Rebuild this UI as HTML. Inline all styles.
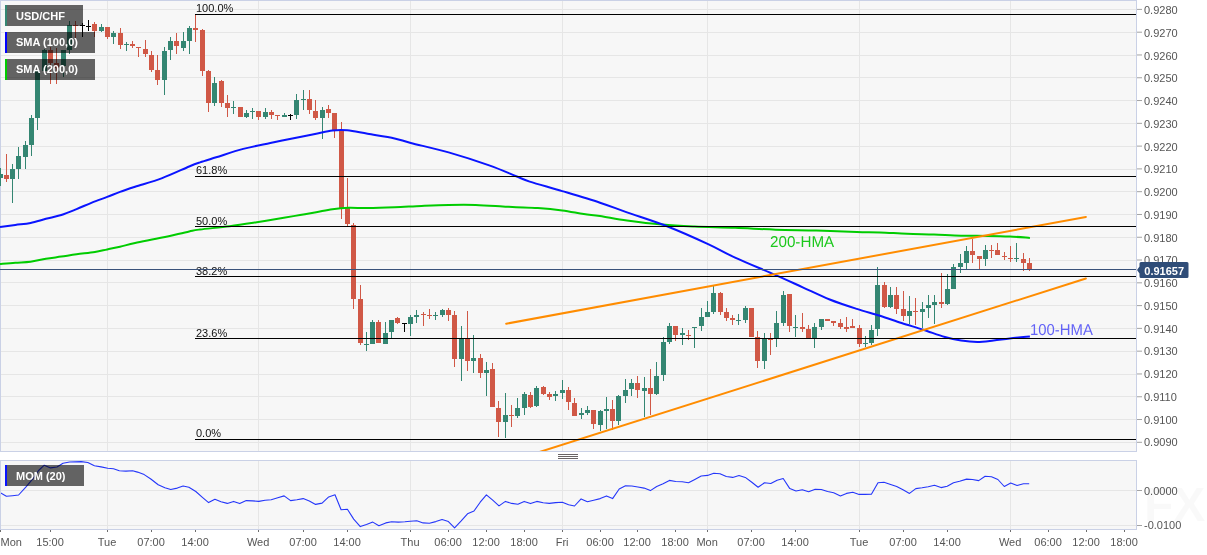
<!DOCTYPE html>
<html><head><meta charset="utf-8"><title>USD/CHF</title>
<style>html,body{margin:0;padding:0;background:#fff;overflow:hidden}svg{display:block;will-change:transform}text{font-family:"Liberation Sans",sans-serif}</style>
</head><body>
<svg width="1207" height="555" viewBox="0 0 1207 555" font-family="Liberation Sans, sans-serif" font-size="11">
<rect width="1207" height="555" fill="#fff"/>
<rect x="0" y="0" width="1137" height="452" fill="#cad1e6"/>
<rect x="1" y="1" width="1135" height="450" fill="#f7f7f7"/>
<rect x="0" y="460" width="1137" height="70" fill="#cad1e6"/>
<rect x="1" y="461" width="1135" height="68" fill="#f7f7f7"/>
<path d="M1 9.5H1136M1 32.5H1136M1 55.5H1136M1 77.5H1136M1 100.5H1136M1 123.5H1136M1 146.5H1136M1 169.5H1136M1 191.5H1136M1 214.5H1136M1 237.5H1136M1 260.5H1136M1 282.5H1136M1 305.5H1136M1 328.5H1136M1 351.5H1136M1 374.5H1136M1 396.5H1136M1 419.5H1136M1 442.5H1136M1 490.5H1136M1 525.5H1136M107.5 1V451M107.5 461V529M258.5 1V451M258.5 461V529M410.5 1V451M410.5 461V529M562.5 1V451M562.5 461V529M707.5 1V451M707.5 461V529M859.5 1V451M859.5 461V529M1010.5 1V451M1010.5 461V529" stroke="#e6e6e6" stroke-width="1" fill="none"/>
<path d="M1137 9.4H1142M1137 32.19H1142M1137 54.97H1142M1137 77.76H1142M1137 100.54H1142M1137 123.33H1142M1137 146.11H1142M1137 168.9H1142M1137 191.68H1142M1137 214.47H1142M1137 237.25H1142M1137 260.03H1142M1137 282.82H1142M1137 305.6H1142M1137 328.39H1142M1137 351.17H1142M1137 373.96H1142M1137 396.75H1142M1137 419.53H1142M1137 442.31H1142M1137 490.5H1142M1137 525.5H1142" stroke="#a3a3a3" stroke-width="1" fill="none"/>
<g fill="#555">
<text x="1144" y="14">0.9280</text>
<text x="1144" y="36.75">0.9270</text>
<text x="1144" y="59.51">0.9260</text>
<text x="1144" y="82.27">0.9250</text>
<text x="1144" y="105.02">0.9240</text>
<text x="1144" y="127.77">0.9230</text>
<text x="1144" y="150.53">0.9220</text>
<text x="1144" y="173.28">0.9210</text>
<text x="1144" y="196.04">0.9200</text>
<text x="1144" y="218.79">0.9190</text>
<text x="1144" y="241.55">0.9180</text>
<text x="1144" y="264.3">0.9170</text>
<text x="1144" y="287.06">0.9160</text>
<text x="1144" y="309.81">0.9150</text>
<text x="1144" y="332.57">0.9140</text>
<text x="1144" y="355.32">0.9130</text>
<text x="1144" y="378.08">0.9120</text>
<text x="1144" y="400.83">0.9110</text>
<text x="1144" y="423.59">0.9100</text>
<text x="1144" y="446.34">0.9090</text>
<text x="1144" y="494.6">0.0000</text>
<text x="1144" y="528.9">-0.0100</text>
</g>
<g fill="#555">
<text x="0.5" y="546">Mon</text>
<text x="50.1" y="546" text-anchor="middle">15:00</text>
<text x="107.1" y="546" text-anchor="middle">Tue</text>
<text x="151.1" y="546" text-anchor="middle">07:00</text>
<text x="195.1" y="546" text-anchor="middle">14:00</text>
<text x="258.1" y="546" text-anchor="middle">Wed</text>
<text x="303.1" y="546" text-anchor="middle">07:00</text>
<text x="347.1" y="546" text-anchor="middle">14:00</text>
<text x="410.1" y="546" text-anchor="middle">Thu</text>
<text x="448.1" y="546" text-anchor="middle">06:00</text>
<text x="486.1" y="546" text-anchor="middle">12:00</text>
<text x="524.1" y="546" text-anchor="middle">18:00</text>
<text x="562.1" y="546" text-anchor="middle">Fri</text>
<text x="600.1" y="546" text-anchor="middle">06:00</text>
<text x="637.1" y="546" text-anchor="middle">12:00</text>
<text x="675.1" y="546" text-anchor="middle">18:00</text>
<text x="707.1" y="546" text-anchor="middle">Mon</text>
<text x="751.1" y="546" text-anchor="middle">07:00</text>
<text x="795.1" y="546" text-anchor="middle">14:00</text>
<text x="859.1" y="546" text-anchor="middle">Tue</text>
<text x="903.1" y="546" text-anchor="middle">07:00</text>
<text x="947.1" y="546" text-anchor="middle">14:00</text>
<text x="1010.1" y="546" text-anchor="middle">Wed</text>
<text x="1048.1" y="546" text-anchor="middle">06:00</text>
<text x="1086.1" y="546" text-anchor="middle">12:00</text>
<text x="1124.1" y="546" text-anchor="middle">18:00</text>
</g>
<path d="M0.5 530V532M50.5 530V532M107.5 530V532M151.5 530V532M195.5 530V532M258.5 530V532M303.5 530V532M347.5 530V532M410.5 530V532M448.5 530V532M486.5 530V532M524.5 530V532M562.5 530V532M600.5 530V532M637.5 530V532M675.5 530V532M707.5 530V532M751.5 530V532M795.5 530V532M859.5 530V532M903.5 530V532M947.5 530V532M1010.5 530V532M1048.5 530V532M1086.5 530V532M1124.5 530V532" stroke="#6e6e6e" stroke-width="1" fill="none"/>
<defs><clipPath id="cm"><rect x="0" y="1" width="1136" height="450"/></clipPath><clipPath id="cb"><rect x="1" y="461" width="1135" height="68"/></clipPath></defs>
<g clip-path="url(#cm)">
<path d="M0 168h1V186h-1zM12 164h1V203h-1zM18 147h1V179h-1zM25 141h1V169h-1zM31 115h1V156h-1zM37 71h1V130h-1zM44 49h1V71h-1zM63 50h1V77h-1zM69 21h1V54h-1zM101 24h1V32h-1zM113 31h1V44h-1zM126 42h1V51h-1zM164 47h1V95h-1zM170 37h1V60h-1zM183 32h1V51h-1zM189 26h1V54h-1zM214 77h1V106h-1zM233 101h1V114h-1zM246 110h1V118h-1zM252 108h1V119h-1zM265 108h1V119h-1zM284 113h1V117h-1zM296 94h1V119h-1zM303 90h1V110h-1zM322 107h1V139h-1zM366 332h1V351h-1zM372 320h1V344h-1zM385 322h1V344h-1zM391 320h1V338h-1zM410 315h1V336h-1zM416 310h1V323h-1zM435 312h1V320h-1zM442 309h1V317h-1zM461 326h1V381h-1zM473 335h1V373h-1zM486 362h1V396h-1zM505 393h1V438h-1zM517 398h1V418h-1zM524 392h1V415h-1zM536 386h1V407h-1zM555 391h1V401h-1zM562 380h1V399h-1zM581 408h1V419h-1zM587 406h1V415h-1zM600 410h1V431h-1zM606 397h1V429h-1zM618 395h1V425h-1zM625 379h1V403h-1zM631 379h1V396h-1zM644 377h1V417h-1zM656 362h1V395h-1zM663 337h1V381h-1zM669 323h1V344h-1zM682 328h1V345h-1zM694 327h1V348h-1zM701 308h1V331h-1zM707 301h1V317h-1zM713 286h1V314h-1zM738 314h1V325h-1zM745 306h1V323h-1zM764 333h1V369h-1zM776 311h1V347h-1zM783 291h1V326h-1zM795 315h1V337h-1zM814 323h1V348h-1zM821 319h1V330h-1zM865 336h1V347h-1zM871 325h1V345h-1zM877 267h1V336h-1zM890 287h1V308h-1zM909 296h1V324h-1zM922 302h1V328h-1zM928 295h1V318h-1zM934 295h1V324h-1zM947 274h1V305h-1zM953 264h1V289h-1zM960 254h1V273h-1zM966 246h1V270h-1zM985 245h1V266h-1zM1016 243h1V262h-1zM-2 174h5V178h-5zM10 169h5V179h-5zM16 156h5V169h-5zM23 145h5V157h-5zM29 118h5V145h-5zM35 71h5V118h-5zM42 50h5V71h-5zM61 50h5V66h-5zM67 25h5V50h-5zM99 27h5V31h-5zM111 33h5V37h-5zM124 44h5V45h-5zM162 51h5V80h-5zM168 41h5V50h-5zM181 41h5V48h-5zM187 28h5V41h-5zM212 83h5V103h-5zM231 107h5V108h-5zM244 113h5V117h-5zM250 111h5V112h-5zM263 112h5V117h-5zM282 115h5V117h-5zM294 100h5V115h-5zM301 99h5V100h-5zM320 110h5V118h-5zM364 344h5V345h-5zM370 322h5V344h-5zM383 333h5V344h-5zM389 320h5V332h-5zM408 317h5V324h-5zM414 315h5V317h-5zM433 315h5V316h-5zM440 310h5V315h-5zM459 338h5V359h-5zM471 358h5V361h-5zM484 370h5V373h-5zM503 415h5V422h-5zM515 408h5V416h-5zM522 394h5V408h-5zM534 388h5V406h-5zM553 394h5V396h-5zM560 390h5V393h-5zM579 413h5V415h-5zM585 410h5V413h-5zM598 411h5V425h-5zM604 409h5V411h-5zM616 396h5V421h-5zM623 390h5V396h-5zM629 383h5V389h-5zM642 388h5V391h-5zM654 376h5V394h-5zM661 342h5V375h-5zM667 326h5V342h-5zM680 333h5V335h-5zM692 327h5V328h-5zM699 317h5V326h-5zM705 312h5V317h-5zM711 293h5V312h-5zM736 320h5V321h-5zM743 308h5V320h-5zM762 339h5V361h-5zM774 323h5V339h-5zM781 295h5V323h-5zM793 327h5V328h-5zM812 327h5V338h-5zM819 319h5V327h-5zM863 343h5V344h-5zM869 330h5V343h-5zM875 285h5V329h-5zM888 295h5V307h-5zM907 311h5V316h-5zM920 309h5V312h-5zM926 305h5V308h-5zM932 302h5V305h-5zM945 289h5V304h-5zM951 267h5V289h-5zM958 263h5V267h-5zM964 251h5V263h-5zM983 250h5V259h-5zM1014 258h5V259h-5z" fill="#348672"/>
<path d="M6 154h1V182h-1zM50 47h1V84h-1zM56 48h1V84h-1zM75 21h1V38h-1zM94 22h1V37h-1zM107 27h1V39h-1zM120 28h1V49h-1zM132 41h1V48h-1zM138 47h1V57h-1zM145 40h1V57h-1zM151 51h1V72h-1zM157 55h1V85h-1zM176 33h1V54h-1zM195 14h1V42h-1zM202 29h1V76h-1zM208 70h1V112h-1zM221 80h1V107h-1zM227 95h1V117h-1zM240 107h1V117h-1zM258 111h1V120h-1zM271 110h1V119h-1zM277 115h1V120h-1zM309 90h1V114h-1zM315 100h1V120h-1zM328 105h1V118h-1zM334 113h1V138h-1zM341 122h1V219h-1zM347 178h1V226h-1zM353 223h1V309h-1zM360 285h1V345h-1zM378 320h1V343h-1zM397 317h1V324h-1zM423 312h1V326h-1zM429 309h1V319h-1zM448 308h1V321h-1zM454 311h1V367h-1zM467 311h1V371h-1zM480 354h1V378h-1zM492 363h1V407h-1zM498 401h1V437h-1zM511 405h1V427h-1zM530 392h1V408h-1zM543 386h1V395h-1zM549 392h1V400h-1zM568 387h1V410h-1zM574 398h1V416h-1zM593 410h1V429h-1zM612 400h1V430h-1zM637 376h1V398h-1zM650 369h1V415h-1zM675 326h1V341h-1zM688 330h1V340h-1zM720 292h1V315h-1zM726 308h1V321h-1zM732 315h1V325h-1zM751 308h1V337h-1zM757 331h1V368h-1zM770 333h1V355h-1zM789 294h1V332h-1zM802 313h1V332h-1zM808 325h1V338h-1zM827 319h1V321h-1zM833 321h1V326h-1zM840 319h1V329h-1zM846 317h1V332h-1zM852 319h1V328h-1zM859 325h1V347h-1zM884 282h1V308h-1zM896 287h1V314h-1zM903 291h1V321h-1zM915 298h1V325h-1zM941 273h1V308h-1zM972 239h1V263h-1zM979 256h1V269h-1zM991 245h1V258h-1zM997 243h1V255h-1zM1004 252h1V260h-1zM1010 246h1V262h-1zM1023 253h1V271h-1zM1029 258h1V271h-1zM4 175h5V179h-5zM48 50h5V63h-5zM54 63h5V68h-5zM73 25h5V26h-5zM92 24h5V31h-5zM105 27h5V37h-5zM118 33h5V45h-5zM130 44h5V46h-5zM136 47h5V48h-5zM143 49h5V54h-5zM149 55h5V70h-5zM155 70h5V80h-5zM174 41h5V46h-5zM193 28h5V30h-5zM200 30h5V71h-5zM206 71h5V103h-5zM219 81h5V103h-5zM225 103h5V108h-5zM238 107h5V117h-5zM256 111h5V117h-5zM269 112h5V115h-5zM275 115h5V116h-5zM307 99h5V110h-5zM313 111h5V118h-5zM326 109h5V113h-5zM332 113h5V130h-5zM339 131h5V208h-5zM345 208h5V224h-5zM351 225h5V299h-5zM358 299h5V343h-5zM376 322h5V343h-5zM395 318h5V323h-5zM421 314h5V315h-5zM427 315h5V316h-5zM446 310h5V315h-5zM452 315h5V359h-5zM465 338h5V361h-5zM478 358h5V373h-5zM490 369h5V407h-5zM496 408h5V422h-5zM509 415h5V416h-5zM528 395h5V407h-5zM541 387h5V394h-5zM547 394h5V397h-5zM566 390h5V402h-5zM572 403h5V416h-5zM591 410h5V424h-5zM610 409h5V421h-5zM635 383h5V390h-5zM648 388h5V394h-5zM673 326h5V335h-5zM686 335h5V336h-5zM718 293h5V312h-5zM724 312h5V318h-5zM730 318h5V320h-5zM749 308h5V337h-5zM755 337h5V361h-5zM768 339h5V340h-5zM787 294h5V326h-5zM800 327h5V329h-5zM806 329h5V338h-5zM825 319h5V321h-5zM831 321h5V323h-5zM838 323h5V327h-5zM844 327h5V329h-5zM850 326h5V328h-5zM857 328h5V344h-5zM882 285h5V307h-5zM894 295h5V309h-5zM901 309h5V316h-5zM913 311h5V312h-5zM939 302h5V304h-5zM970 251h5V255h-5zM977 256h5V259h-5zM989 250h5V251h-5zM995 250h5V255h-5zM1002 256h5V257h-5zM1008 258h5V259h-5zM1021 259h5V263h-5zM1027 263h5V269h-5z" fill="#d05846"/>
<path d="M82 23h1V37h-1zM88 20h1V31h-1zM290 114h1V120h-1zM404 323h1V332h-1zM80 25h5V26h-5zM86 26h5V27h-5zM288 115h5V116h-5zM402 323h5V324h-5z" fill="#000"/>
<path d="M0 264C2.55 263.78 10.2 263.08 15.3 262.7C20.4 262.32 25.5 262.35 30.6 261.7C35.7 261.05 40.78 259.65 45.9 258.8C51.02 257.95 56.18 257.35 61.3 256.6C66.42 255.85 71 255.07 76.6 254.3C82.2 253.53 89.8 252.82 94.9 252C100 251.18 103.02 250.28 107.2 249.4C111.38 248.52 115.35 247.77 120 246.7C124.65 245.63 128.07 244.52 135.1 243C142.13 241.48 153.18 239.53 162.2 237.6C171.22 235.67 182.9 232.75 189.2 231.4C195.5 230.05 193.25 230.37 200 229.5C206.75 228.63 220.23 227.42 229.7 226.2C239.17 224.98 247.78 223.6 256.8 222.2C265.82 220.8 276.6 219 283.8 217.8C291 216.6 294.6 215.93 300 215C305.4 214.07 310.8 213.17 316.2 212.2C321.6 211.23 327 209.93 332.4 209.2C337.8 208.47 342.73 207.98 348.6 207.8C354.47 207.62 359.93 208.18 367.6 208.1C375.27 208.02 385.6 207.67 394.6 207.3C403.6 206.93 412.6 206.3 421.6 205.9C430.6 205.5 439.58 205.07 448.6 204.9C457.62 204.73 466.68 204.63 475.7 204.9C484.72 205.17 495.95 206.1 502.7 206.5C509.45 206.9 510.35 207.03 516.2 207.3C522.05 207.57 530.13 207.57 537.8 208.1C545.47 208.63 554.53 209.5 562.2 210.5C569.87 211.5 577.5 213.18 583.8 214.1C590.1 215.02 592.8 214.93 600 216C607.2 217.07 616.63 219.07 627 220.5C637.37 221.93 650.93 223.6 662.2 224.6C673.47 225.6 682.45 225.97 694.6 226.5C706.75 227.03 721.58 227.27 735.1 227.8C748.62 228.33 762.18 229.25 775.7 229.7C789.22 230.15 802.68 230.13 816.2 230.5C829.72 230.87 846.17 231.58 856.8 231.9C867.43 232.22 871.63 232.08 880 232.4C888.37 232.72 898 233.43 907 233.8C916 234.17 925 234.28 934 234.6C943 234.92 952 235.48 961 235.7C970 235.92 979.88 235.77 988 235.9C996.12 236.03 1002.72 236.17 1009.7 236.5C1016.68 236.83 1026.53 237.67 1029.9 237.9" stroke="#00cc00" stroke-width="2" fill="none" stroke-linejoin="round"/>
<path d="M0 227.1C2.55 226.73 10.2 225.6 15.3 224.9C20.4 224.2 25.5 223.92 30.6 222.9C35.7 221.88 40.78 220.12 45.9 218.8C51.02 217.48 56.18 216.62 61.3 215C66.42 213.38 71.5 211.17 76.6 209.1C81.7 207.03 86.8 204.63 91.9 202.6C97 200.57 102.52 198.68 107.2 196.9C111.88 195.12 115.35 193.58 120 191.9C124.65 190.22 128.07 189.1 135.1 186.8C142.13 184.5 153.18 181.48 162.2 178.1C171.22 174.72 182.9 169.12 189.2 166.5C195.5 163.88 195.5 163.93 200 162.4C204.5 160.87 209 159.55 216.2 157.3C223.4 155.05 234.18 151.28 243.2 148.9C252.22 146.52 260.83 144.98 270.3 143C279.77 141.02 292.35 138.53 300 137C307.65 135.47 310.8 134.88 316.2 133.8C321.6 132.72 327.22 131.08 332.4 130.5C337.58 129.92 341.43 129.75 347.3 130.3C353.17 130.85 359.72 132.45 367.6 133.8C375.48 135.15 387.4 136.87 394.6 138.4C401.8 139.93 401.8 140.67 410.8 143C419.8 145.33 435.53 148.67 448.6 152.4C461.67 156.13 477.93 161.43 489.2 165.4C500.47 169.37 509.45 173.5 516.2 176.2C522.95 178.9 522.03 179.12 529.7 181.6C537.37 184.08 550.48 187.58 562.2 191.1C573.92 194.62 589.2 199.15 600 202.7C610.8 206.25 615.73 208.43 627 212.4C638.27 216.37 654.08 221.22 667.6 226.5C681.12 231.78 696.85 238.92 708.1 244.1C719.35 249.28 723.83 252.43 735.1 257.6C746.37 262.77 764.43 270.15 775.7 275.1C786.97 280.05 793.7 283.23 802.7 287.3C811.7 291.37 820.68 295.9 829.7 299.5C838.72 303.1 848.42 306.2 856.8 308.9C865.18 311.6 872.53 313.35 880 315.7C887.47 318.05 894.4 320.67 901.6 323C908.8 325.33 915.98 327.37 923.2 329.7C930.42 332.03 938.58 335.2 944.9 337C951.22 338.8 955.7 339.68 961.1 340.5C966.5 341.32 971.9 341.9 977.3 341.9C982.7 341.9 988.1 341.08 993.5 340.5C998.9 339.92 1003.63 339.08 1009.7 338.4C1015.77 337.72 1026.53 336.73 1029.9 336.4" stroke="#0a14ff" stroke-width="2" fill="none" stroke-linejoin="round"/>
<text x="770" y="247.3" font-size="15.7" text-rendering="geometricPrecision" textLength="64.2" lengthAdjust="spacingAndGlyphs" fill="#1cc81c">200-HMA</text>
<text x="1030" y="335.2" font-size="15.8" text-rendering="geometricPrecision" textLength="62.9" lengthAdjust="spacingAndGlyphs" fill="#6363f7">100-HMA</text>
<path d="M506.2 323.7L1085.9 216.9" stroke="#ff8c00" stroke-width="2" fill="none" stroke-linecap="round"/>
<path d="M530 455L1085.9 278.5" stroke="#ff8c00" stroke-width="2" fill="none" stroke-linecap="round"/>
<path d="M195 14.5H1136" stroke="#000" stroke-width="1"/>
<text x="196" y="12" fill="#111">100.0%</text>
<path d="M195 176.5H1136" stroke="#000" stroke-width="1"/>
<text x="196" y="174" fill="#111">61.8%</text>
<path d="M195 226.5H1136" stroke="#000" stroke-width="1"/>
<text x="196" y="225" fill="#111">50.0%</text>
<path d="M195 276.5H1136" stroke="#000" stroke-width="1"/>
<text x="196" y="275" fill="#111">38.2%</text>
<path d="M195 338.5H1136" stroke="#000" stroke-width="1"/>
<text x="196" y="337" fill="#111">23.6%</text>
<path d="M195 439.5H1136" stroke="#000" stroke-width="1"/>
<text x="196" y="437" fill="#111">0.0%</text>
<path d="M0 269.5H1136" stroke="#3a527a" stroke-width="1"/>
<rect x="5" y="5" width="78" height="21" fill="rgba(0,0,0,0.6)"/>
<rect x="5" y="5" width="2" height="21" fill="#348672"/>
<text x="16" y="19.8" fill="#fff" font-weight="bold">USD/CHF</text>
<rect x="5" y="32" width="90" height="21" fill="rgba(0,0,0,0.6)"/>
<rect x="5" y="32" width="2" height="21" fill="#0000ff"/>
<text x="16" y="45.9" fill="#fff" font-weight="bold">SMA (100,0)</text>
<rect x="5" y="59" width="90" height="21" fill="rgba(0,0,0,0.6)"/>
<rect x="5" y="59" width="2" height="21" fill="#00cc00"/>
<text x="16" y="72.8" fill="#fff" font-weight="bold">SMA (200,0)</text>
</g>
<g clip-path="url(#cb)">
<path d="M0 492.5L6.4 496.3L12.5 495.7L18.6 495L25.8 487.2L32.6 479.2L38.6 470.5L44.3 465.2L50.5 467.9L57 467L63 463.3L69.6 462L81.2 461.6L87.8 462.5L94.4 465.8L101.1 466.9L107.7 468.3L113.5 468.8L119.3 470.7L125.9 471.1L132.6 470.7L137.5 472.1L144.2 474.6L150.8 479L158.2 484.8L164.9 487.8L170.7 489.5L177.3 488.1L183.1 486L188.9 487.3L195.8 491.5L202.4 497.3L208.6 502.6L214.9 499.2L221 501.7L227.3 503.4L233.6 501.4L239.7 503.6L246.3 500.6L252.6 500.9L258.8 501.4L265.1 500.2L271.2 499.7L277.8 497.8L284.1 495.9L290.6 500.6L296.9 499.7L303.2 498.6L309.3 501.1L315.6 504.4L322.1 503.1L328.7 496.9L335 494.8L341.1 509.7L347.4 509.2L353.7 519.1L360.3 526.6L366.5 524.6L372.8 522.1L378.9 525.8L385.8 522.9L391.6 521.8L398.2 522.1L404.9 521.8L410.3 521.3L416.8 520.8L423.1 522.9L429.4 523.3L435.8 521.6L442.1 519.6L448.4 521.6L454.6 527.9L461.2 520.9L467.5 513.8L474 511L480.2 502.2L486.4 494.8L492.7 500.2L499 505.9L505.4 501.4L511.7 503.4L517.9 504.2L524.2 501.4L530.5 503.6L536.8 501.4L543.2 502.7L549.3 503.4L555.6 502.6L562.3 502.2L568.6 504.7L574.5 506L581.1 498.9L587.4 501.7L593.7 500.2L600.2 498.6L606.5 495.9L612.6 498.6L619.2 489L625.5 485.7L631.8 486L637.9 487L644.1 488.1L650.4 490.6L656.7 486.5L663.1 483.7L669.4 480.4L675.7 481.5L682.2 481.8L688.5 482.8L694.8 479.4L701.2 476L707.5 475.4L713.8 473.2L720 473.7L726.3 476.5L732.7 477.4L739 475.4L745.3 477.4L751.8 482.3L758.1 487.3L764.5 482.7L770.8 483.5L777.1 480.2L783.2 478.5L789.8 488.6L796 491L802.3 489.8L808.6 491.8L815.2 489.3L821.3 489.5L827.6 491.5L833.7 492.8L840.4 495.9L846.5 493.4L852.8 492.3L859.1 494.4L865.2 494.4L871.4 494.3L878 482.8L884 482.3L890.6 484.5L896.7 486.5L903 489.8L909.5 493.4L915.8 488.6L922.1 487.8L928.2 486.8L934.5 485.2L941 487.6L947.2 486.2L953.5 482.8L959.6 481.2L966.6 479.1L972.4 479.5L978.7 480.6L985.1 476.3L991.5 476.7L997.9 479.5L1004.3 486.5L1010.7 483.1L1017.1 485.5L1023.5 483.7L1029.2 483.7" stroke="#2436fa" stroke-width="1.1" fill="none" stroke-linejoin="round"/>
<rect x="5" y="465" width="79" height="21" fill="rgba(0,0,0,0.6)"/>
<rect x="5" y="465" width="2" height="21" fill="#0a14ff"/>
<text x="16" y="479.8" fill="#fff" font-weight="bold">MOM (20)</text>
</g>
<text x="1144" y="521" font-size="48" font-weight="bold" fill="#000" fill-opacity="0.022">FX</text>
<path d="M558 454.5H578M558 456.5H578M558 458.5H578" stroke="#6a6464" stroke-width="1"/>
<path d="M1137 270L1139.5 266.5V263.5a1.5 1.5 0 0 1 1.5-1.5H1187a1.5 1.5 0 0 1 1.5 1.5V276.5a1.5 1.5 0 0 1-1.5 1.5H1141a1.5 1.5 0 0 1-1.5-1.5V273.5z" fill="#2f4d78"/>
<text x="1144.3" y="274.7" fill="#fff" font-weight="bold">0.91657</text>
</svg>
</body></html>
